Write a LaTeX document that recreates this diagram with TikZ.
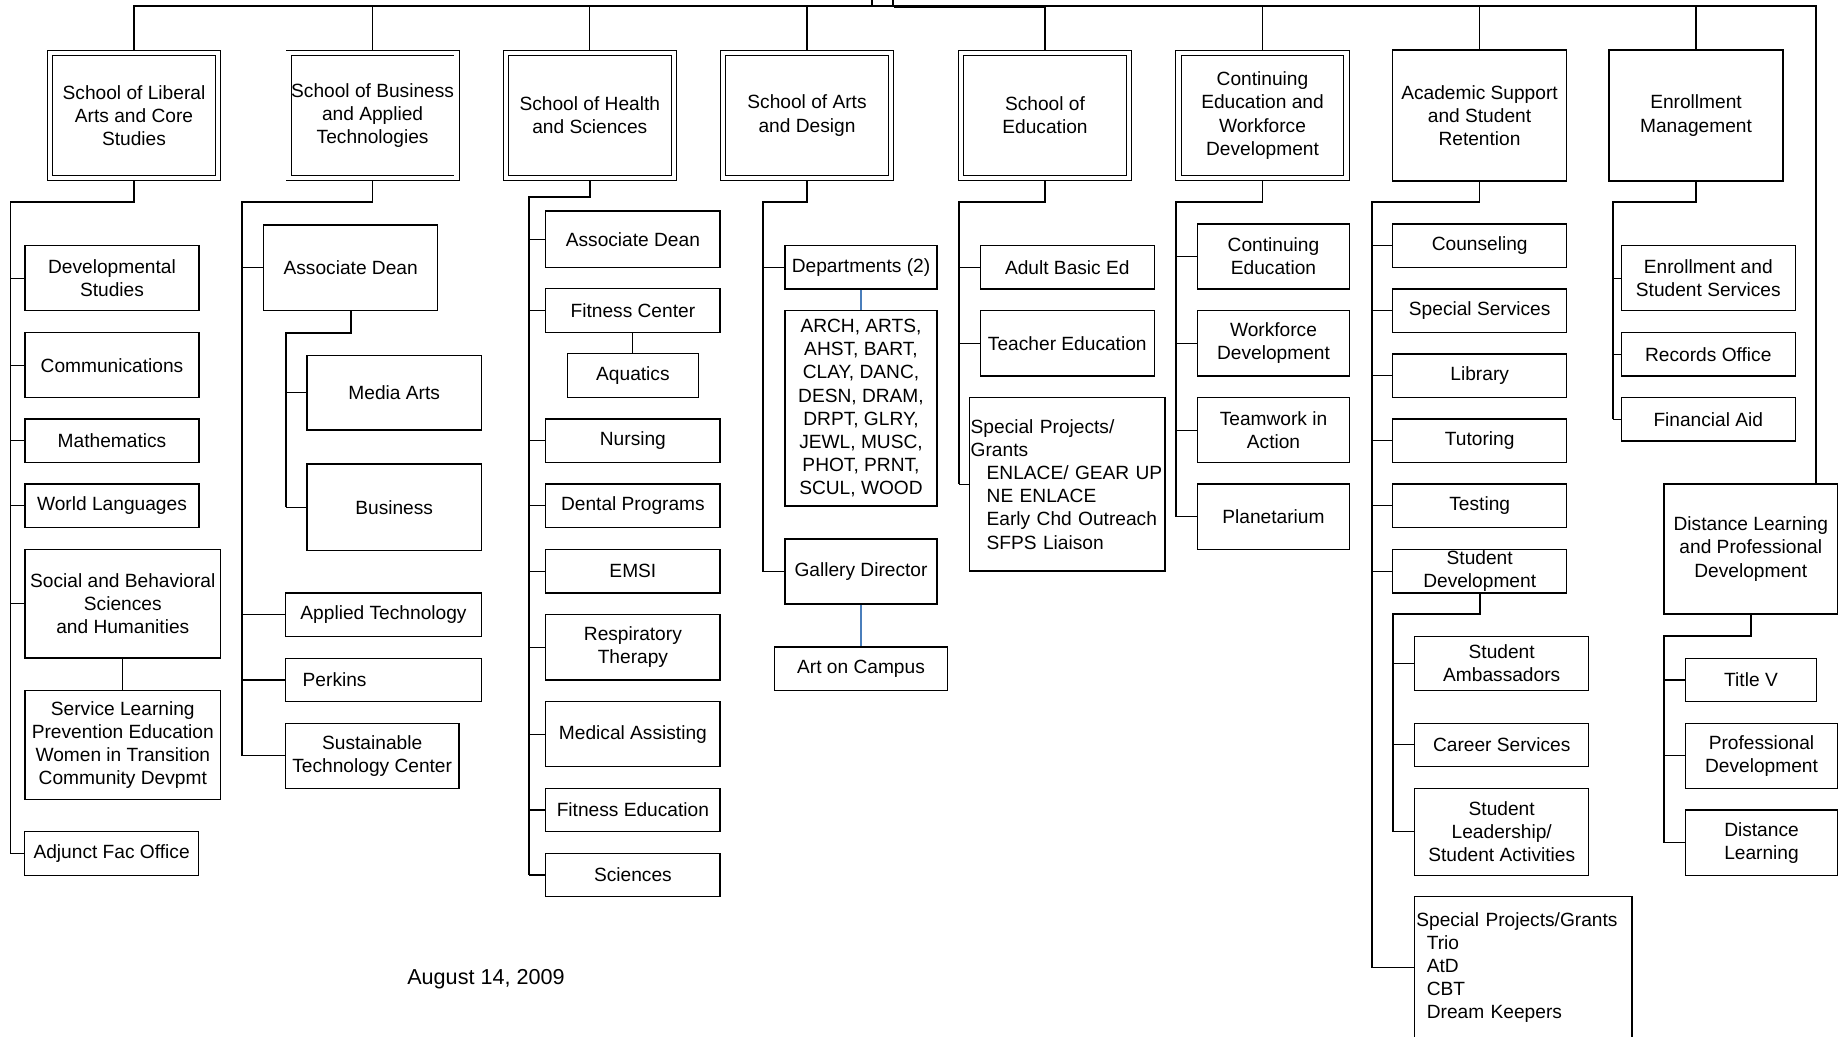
\documentclass[tikz,border=0pt]{standalone}
\usepackage{fontspec}
\setmainfont{Liberation Sans}
\usetikzlibrary{backgrounds}

\newcommand\orgfont{\fontsize{10.9}{13.2}\selectfont}
\newcommand\datefont{\fontsize{12.3}{14}\selectfont}
\newcommand\pxunit{0.02cm}
\definecolor{linkblue}{RGB}{74,126,187}

\tikzset{
  orgbox/.style 2 args={draw, line width=0.7pt, fill=white, inner sep=0pt,
    minimum width=#1*\pxunit, minimum height=#2*\pxunit, align=center, font=\orgfont},
  schoolbox/.style={orgbox={168}{125}, line width=0.55pt, double, double distance=2.4pt},
  unitbox/.style={orgbox={174}{131}},
  spine/.style={line width=0.95pt},
  tick/.style={line width=0.65pt},
  bluelink/.style={line width=0.9pt, draw=linkblue},
}

\begin{document}
\begin{tikzpicture}[x=\pxunit, y=-\pxunit]
  \useasboundingbox (0,0) rectangle (1839,1037);

  \node[draw, line width=0.7pt, minimum width=21*\pxunit, minimum height=40*\pxunit] (pres) at (882.5,-14) {};

  \node[schoolbox] (lib) at (134,115.5) {School of Liberal\\Arts and Core\\Studies};
  \node[schoolbox] (bus) at (372.6,115.5) {School of Business\\and Applied\\Technologies};
  \node[schoolbox] (hlt) at (589.8,115.5) {School of Health\\and Sciences};
  \node[schoolbox] (art) at (807,115.5) {School of Arts\\and Design};
  \node[schoolbox] (edu) at (1045,115.5) {School of\\Education};
  \node[schoolbox] (cwd) at (1262.5,115.5) {Continuing\\Education and\\Workforce\\Development};
  \node[unitbox] (asr) at (1479.5,115.5) {Academic Support\\and Student\\Retention};
  \node[unitbox] (enr) at (1696,115.5) {Enrollment\\Management};

  \node[orgbox={174}{65}] (dev) at (112,278.2) {Developmental\\Studies};
  \node[orgbox={174}{65}] (com) at (112,365.2) {Communications};
  \node[orgbox={174}{43.7}] (mat) at (112,440.8) {Mathematics};
  \node[orgbox={174}{43.7}] (wl) at (112,505.8) {World Languages};
  \node[orgbox={195.7}{108.7}] (sbs) at (122.8,603.7) {Social and Behavioral\\Sciences\\and Humanities};
  \node[orgbox={195.5}{108.6}] (svc) at (122.8,745) {Service Learning\\Prevention Education\\Women in Transition\\Community Devpmt};
  \node[orgbox={174}{43.6}] (adj) at (111.6,853.5) {Adjunct Fac Office};

  \node[orgbox={174}{85.7}] (bad) at (350.7,267.8) {Associate Dean};
  \node[orgbox={174.3}{74.7}] (med) at (394.2,392.7) {Media Arts};
  \node[orgbox={174.3}{86.7}] (busn) at (394.2,507.3) {Business};
  \node[orgbox={195.6}{43.3}] (apt) at (383.5,614.7) {Applied Technology};
  \node[orgbox={196}{43.4}, align=left, text width=3.224cm, inner xsep=17.4*\pxunit] (prk) at (383.3,680) {Perkins};
  \node[orgbox={173.7}{65}] (stc) at (372.2,755.8) {Sustainable\\Technology Center};

  \node[orgbox={174.3}{56.7}] (had) at (632.9,239.3) {Associate Dean};
  \node[orgbox={174.3}{44}] (fit) at (632.9,310.7) {Fitness Center};
  \node[orgbox={130.6}{44}] (aqu) at (632.9,375.7) {Aquatics};
  \node[orgbox={174.3}{43.7}] (nur) at (632.9,440.8) {Nursing};
  \node[orgbox={174.3}{43.7}] (den) at (632.9,505.8) {Dental Programs};
  \node[orgbox={174.3}{43.7}] (ems) at (632.9,571.2) {EMSI};
  \node[orgbox={174.3}{65.7}] (res) at (632.9,647.2) {Respiratory\\Therapy};
  \node[orgbox={174.3}{65}] (mas) at (632.9,734.2) {Medical Assisting};
  \node[orgbox={174.3}{43.4}] (fed) at (632.9,810) {Fitness Education};
  \node[orgbox={174.3}{43.4}] (sci) at (632.9,875) {Sciences};

  \node[orgbox={152}{43.3}] (dep) at (861,267.3) {Departments (2)};
  \node[orgbox={152}{195.3}] (codes) at (861,408.3) {ARCH, ARTS,\\AHST, BART,\\CLAY, DANC,\\DESN, DRAM,\\DRPT, GLRY,\\JEWL, MUSC,\\PHOT, PRNT,\\SCUL, WOOD};
  \node[orgbox={152}{65}] (gal) at (861,571.5) {Gallery Director};
  \node[orgbox={173.7}{43.8}] (aoc) at (861,668.9) {Art on Campus};

  \node[orgbox={174}{43.3}] (abe) at (1067.3,267.3) {Adult Basic Ed};
  \node[orgbox={174}{65.3}] (ted) at (1067.3,343.3) {Teacher Education};
  \node[orgbox={195.3}{173.3}, align=left, text width=3.866cm, inner xsep=1*\pxunit] (spg) at (1067.3,484.3)
    {Special Projects/\\Grants\\\hspace*{0.32cm}ENLACE/ GEAR UP\\\hspace*{0.32cm}NE ENLACE\\\hspace*{0.32cm}Early Chd Outreach\\\hspace*{0.32cm}SFPS Liaison};

  \node[orgbox={152.4}{65}] (ced) at (1273.5,256.5) {Continuing\\Education};
  \node[orgbox={152.4}{65.3}] (wfd) at (1273.5,343.3) {Workforce\\Development};
  \node[orgbox={152.4}{65}] (tia) at (1273.5,430.2) {Teamwork in\\Action};
  \node[orgbox={152.4}{65.3}] (pln) at (1273.5,516.7) {Planetarium};

  \node[orgbox={174}{43.3}] (cou) at (1479.7,245.7) {Counseling};
  \node[orgbox={174}{43.3}] (sps) at (1479.7,310.7) {Special Services};
  \node[orgbox={174}{43.7}] (lby) at (1479.7,375.8) {Library};
  \node[orgbox={174}{43.7}] (tut) at (1479.7,440.8) {Tutoring};
  \node[orgbox={174}{43.7}] (tst) at (1479.7,505.8) {Testing};
  \node[orgbox={174}{43.7}] (sdv) at (1479.7,571.2) {Student\\Development};
  \node[orgbox={174.3}{53.6}] (sam) at (1501.7,663.5) {Student\\Ambassadors};
  \node[orgbox={174.3}{43}] (car) at (1501.7,744.8) {Career Services};
  \node[orgbox={174.3}{87}] (sla) at (1501.7,831.8) {Student\\Leadership/\\Student Activities};
  \node[orgbox={217.5}{142.5}, align=left, text width=4.28cm, inner xsep=1.7*\pxunit] (spt) at (1523.3,967.5)
    {Special Projects/Grants\\\hspace*{0.21cm}Trio\\\hspace*{0.21cm}AtD\\\hspace*{0.21cm}CBT\\\hspace*{0.21cm}Dream Keepers};

  \node[orgbox={174}{65}] (ess) at (1708.3,278.2) {Enrollment and\\Student Services};
  \node[orgbox={174}{43.7}] (rec) at (1708.3,354.2) {Records Office};
  \node[orgbox={174}{43.3}] (fin) at (1708.3,419.3) {Financial Aid};

  \node[orgbox={173.7}{130}] (dlp) at (1750.8,549) {Distance Learning\\and Professional\\Development};
  \node[orgbox={130.6}{43.4}] (ttl) at (1751,680) {Title V};
  \node[orgbox={151.6}{65}] (prd) at (1761.5,755.8) {Professional\\Development};
  \node[orgbox={151.6}{65.3}] (dsl) at (1761.5,842.7) {Distance\\Learning};

  \node[font=\datefont] (date) at (486,979) {August 14, 2009};

  \begin{pgfonlayer}{background}
    \coordinate (topR) at (1816,6);
    \draw[tick] (lib.north) |- (topR) -- (topR |- dlp.north);
    \foreach \s in {bus,hlt,art,edu,cwd,asr,enr}
      \draw[tick] (\s.north |- topR) -- (\s.north);
    \draw[line width=1.4pt] (pres.south east) -- (edu.north |- pres.south east);

    \coordinate (libs) at (10.5,202.3);
    \draw[spine] (lib.south) |- (libs) -- (libs |- adj.west);
    \foreach \c in {dev,com,mat,wl,sbs,adj}
      \draw[tick] (libs |- \c.west) -- (\c.west);
    \draw[tick] (sbs.south) -- (sbs.south |- svc.north);

    \coordinate (buss) at (242,202.3);
    \draw[spine] (bus.south) |- (buss) -- (buss |- stc.west);
    \foreach \c in {bad,apt,prk,stc}
      \draw[tick] (buss |- \c.west) -- (\c.west);
    \coordinate (bads) at (285.7,332.7);
    \draw[spine] (bad.south) |- (bads) -- (bads |- busn.west);
    \foreach \c in {med,busn}
      \draw[tick] (bads |- \c.west) -- (\c.west);

    \coordinate (hlts) at (529,197.3);
    \draw[spine] (hlt.south) |- (hlts) -- (hlts |- sci.west);
    \foreach \c in {had,fit,nur,den,ems,res,mas,fed,sci}
      \draw[tick] (hlts |- \c.west) -- (\c.west);
    \draw[tick] (fit.south) -- (aqu.north);

    \coordinate (arts) at (763.3,202.3);
    \draw[spine] (art.south) |- (arts) -- (arts |- gal.west);
    \foreach \c in {dep,gal}
      \draw[tick] (arts |- \c.west) -- (\c.west);
    \draw[bluelink] (dep.south) -- (codes.north);
    \draw[bluelink] (gal.south) -- (aoc.north);

    \coordinate (edus) at (959,202.3);
    \draw[spine] (edu.south) |- (edus) -- (edus |- spg.west);
    \foreach \c in {abe,ted,spg}
      \draw[tick] (edus |- \c.west) -- (\c.west);

    \coordinate (cwds) at (1176,202.3);
    \draw[spine] (cwd.south) |- (cwds) -- (cwds |- pln.west);
    \foreach \c in {ced,wfd,tia,pln}
      \draw[tick] (cwds |- \c.west) -- (\c.west);

    \coordinate (asrs) at (1371.7,202.3);
    \draw[spine] (asr.south) |- (asrs) -- (asrs |- spt.west);
    \foreach \c in {cou,sps,lby,tut,tst,sdv,spt}
      \draw[tick] (asrs |- \c.west) -- (\c.west);
    \coordinate (sdvs) at (1392.7,614.3);
    \draw[spine] (sdv.south) |- (sdvs) -- (sdvs |- sla.west);
    \foreach \c in {sam,car,sla}
      \draw[tick] (sdvs |- \c.west) -- (\c.west);

    \coordinate (enrs) at (1612.7,202.3);
    \draw[spine] (enr.south) |- (enrs) -- (enrs |- fin.west);
    \foreach \c in {ess,rec,fin}
      \draw[tick] (enrs |- \c.west) -- (\c.west);

    \coordinate (dlps) at (1664,635.7);
    \draw[spine] (dlp.south) |- (dlps) -- (dlps |- dsl.west);
    \foreach \c in {ttl,prd,dsl}
      \draw[tick] (dlps |- \c.west) -- (\c.west);
  \end{pgfonlayer}
\end{tikzpicture}
\end{document}
